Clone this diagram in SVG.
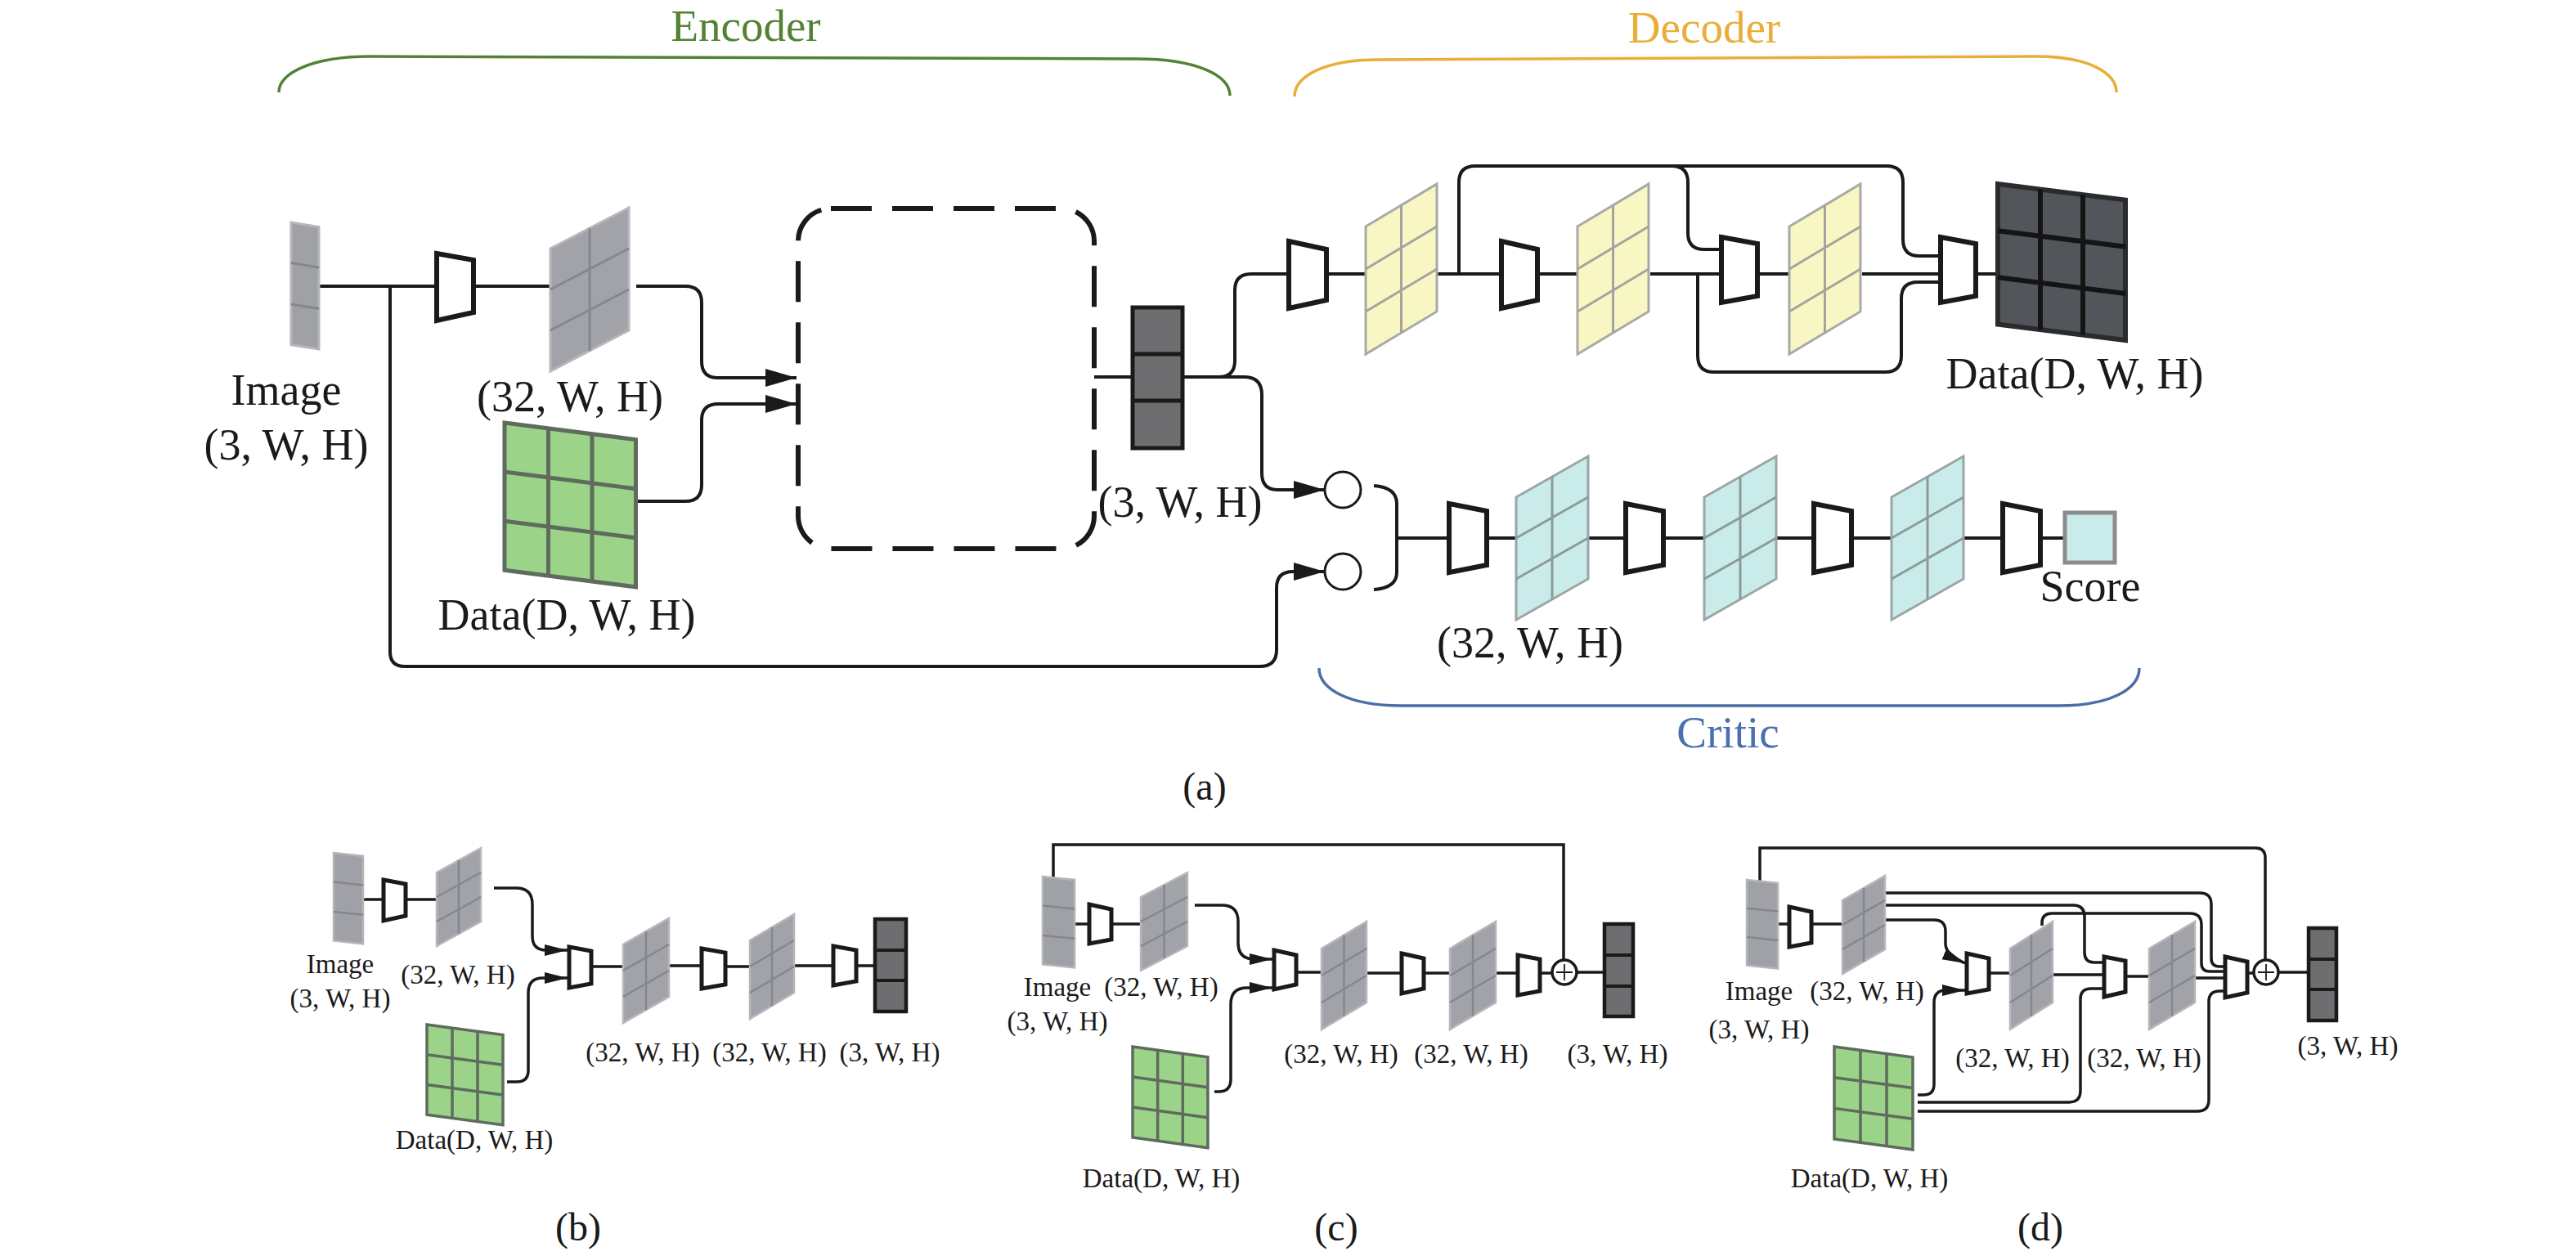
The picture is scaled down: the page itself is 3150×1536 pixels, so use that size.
<svg xmlns="http://www.w3.org/2000/svg" width="3150" height="1536" viewBox="0 0 3150 1536">
<defs>
<style>
text{font-family:"Liberation Serif","Times New Roman",serif;fill:#1a1a1a;text-anchor:middle}
.lbl{font-size:54px}
.sm{font-size:33px}
.cap{font-size:48px}
.ttl{font-size:55px}
.ln{fill:none;stroke:#1a1a1a;stroke-width:4}
.lns{fill:none;stroke:#1a1a1a;stroke-width:3.5}
.trap{fill:#fff;stroke:#1a1a1a;stroke-width:6}
.traps{fill:#fff;stroke:#1a1a1a;stroke-width:5}
.dst{fill:#6e6d70;stroke:#1a1a1a;stroke-width:5}
.dsts{fill:#6e6d70;stroke:#1a1a1a;stroke-width:4.5}
.circ{fill:#fff;stroke:#1a1a1a;stroke-width:3}
.oplus{fill:#fff;stroke:#1a1a1a;stroke-width:3.5}
.plus{fill:none;stroke:#1a1a1a;stroke-width:1.8}
.ns{vector-effect:non-scaling-stroke}
.brace{fill:none;stroke-width:3.5}
</style>
<marker id="ah" markerUnits="userSpaceOnUse" markerWidth="40" markerHeight="24" refX="38" refY="11" orient="auto"><path d="M0,0 L38,11 L0,22 Z" fill="#1a1a1a"/></marker>
<marker id="ahs" markerUnits="userSpaceOnUse" markerWidth="30" markerHeight="16" refX="28" refY="7" orient="auto"><path d="M0,0 L28,7 L0,14 Z" fill="#1a1a1a"/></marker>
<g id="mapGray">
 <polygon class="ns" points="0,50 100,0 100,150 0,200" fill="#a2a3a9" stroke="#b6b7bc"/>
 <path class="ns" d="M50,25 V175 M0,100 L100,50 M0,150 L100,100" fill="none" stroke="#86878e"/>
</g>
<g id="mapYel">
 <polygon class="ns" points="0,50 100,0 100,150 0,200" fill="#f8f7c4" stroke="#a9a9a6"/>
 <path class="ns" d="M50,25 V175 M0,100 L100,50 M0,150 L100,100" fill="none" stroke="#a3a3a0"/>
</g>
<g id="mapCyan">
 <polygon class="ns" points="0,50 100,0 100,150 0,200" fill="#c9ebea" stroke="#9aa5a5"/>
 <path class="ns" d="M50,25 V175 M0,100 L100,50 M0,150 L100,100" fill="none" stroke="#8d9a9a"/>
</g>
<g id="dataGreen">
 <polygon class="ns" points="0,0 150,20 150,195 0,175" fill="#9bd488" stroke="#5e6b5d"/>
 <path class="ns" d="M50,6.67 V181.67 M100,13.33 V188.33 M0,58.33 L150,78.33 M0,116.67 L150,136.67" fill="none" stroke="#5e6b5d"/>
</g>
<g id="dataDark">
 <polygon class="ns" points="0,0 150,20 150,195 0,175" fill="#52555a" stroke="#2a2b2d"/>
 <path class="ns" d="M50,6.67 V181.67 M100,13.33 V188.33 M0,58.33 L150,78.33 M0,116.67 L150,136.67" fill="none" stroke="#141414"/>
</g>
<g id="stk">
 <polygon class="ns" points="0,0 34,5 34,141 0,136" fill="#a0a1a7" stroke="#b5b6ba"/>
 <path class="ns" d="M0,45 L34,50 M0,91 L34,96" fill="none" stroke="#86878d"/>
</g>
</defs>
<rect width="3150" height="1536" fill="#fff"/>

<!-- ================= (a) ================= -->
<g id="a-annotations">
 <path class="brace" stroke="#548235" d="M341,113 C341,90 380,69 453,69 L1390,72 C1463,72 1504,92 1504,117"/>
 <path class="brace" stroke="#e9ae38" d="M1583,118 C1583,93 1620,73 1686,73 L2490,69 C2556,69 2588,90 2588,113"/>
 <path class="brace" stroke="#4a6fa5" d="M1613,817 C1613,843 1650,863 1713,863 L2518,863 C2580,863 2616,843 2616,817"/>
 <text class="ttl" x="912" y="50" style="fill:#548235">Encoder</text>
 <text class="ttl" x="2084" y="52" style="fill:#e9ae38">Decoder</text>
 <text class="ttl" x="2113" y="914" style="fill:#4a70b0">Critic</text>
 <text class="cap" x="1473" y="978">(a)</text>
</g>

<g id="a-connectors">
 <path class="ln" d="M390,350 H534 M579,350 H673"/>
 <path class="ln" d="M477,350 V797 Q477,815 495,815 H1540 Q1561,815 1561,795 V719 Q1561,699 1581,699 H1620" marker-end="url(#ah)"/>
 <path class="ln" d="M778,350 H838 Q858,350 858,370 V442 Q858,462 878,462 H974" marker-end="url(#ah)"/>
 <path class="ln" d="M778,613 H838 Q858,613 858,593 V514 Q858,494 878,494 H974" marker-end="url(#ah)"/>
 <path class="ln" d="M1338,461 H1385"/>
 <path class="ln" d="M1446,461 H1490 Q1510,461 1510,441 V355 Q1510,335 1530,335 H1576"/>
 <path class="ln" d="M1490,461 H1521 Q1543,461 1543,483 V579 Q1543,599 1563,599 H1620" marker-end="url(#ah)"/>
 <path class="ln" d="M1622,335 H1670 M1757,335 H1836 M1880,335 H1929 M2018,335 H2105 M2149,335 H2188 M2277,335 H2373 M2416,335 H2443"/>
 <path class="ln" d="M1784,335 V223 Q1784,203 1804,203 H2307 Q2327,203 2327,223 V293 Q2327,313 2347,313 H2373"/>
 <path class="ln" d="M2044,203 Q2064,203 2064,223 V285 Q2064,305 2084,305 H2105"/>
 <path class="ln" d="M2076,335 V435 Q2076,455 2096,455 H2305 Q2325,455 2325,435 V365 Q2325,345 2345,345 H2373"/>
 <path class="ln" d="M1680,594 Q1708,596 1708,616 V700 Q1708,719 1680,721"/>
 <path class="ln" d="M1708,658 H1772 M1818,658 H1854 M1942,658 H1988 M2034,658 H2084 M2172,658 H2218 M2264,658 H2313 M2400,658 H2449 M2495,658 H2525"/>
</g>

<g id="a-image"><use href="#stk" transform="translate(356,272) scale(1,1.1)" stroke-width="3"/>
 <text class="lbl" x="350" y="495">Image</text><text class="lbl" x="350" y="562">(3, W, H)</text></g>
<g id="a-enc-conv"><polygon class="trap" points="534,310 579,318 579,382 534,392"/></g>
<g id="a-enc-feat"><use href="#mapGray" transform="translate(673,254) scale(0.96,1.0)" stroke-width="3"/>
 <text class="lbl" x="697" y="503">(32, W, H)</text></g>
<g id="a-data"><use href="#dataGreen" transform="translate(617,517) scale(1.07,1.03)" stroke-width="5"/>
 <text class="lbl" x="693" y="770">Data(D, W, H)</text></g>
<g id="a-encoder-box"><rect x="976" y="255" width="362" height="416" rx="40" fill="none" stroke="#1a1a1a" stroke-width="6" stroke-dasharray="50 25"/></g>
<g id="a-encoded"><rect class="dst" x="1385" y="376" width="61" height="172"/><path d="M1385,433 H1446 M1385,490 H1446" stroke="#1a1a1a" stroke-width="5"/>
 <text class="lbl" x="1443" y="632">(3, W, H)</text></g>

<g id="a-dec-conv1"><polygon class="trap" points="1576,295 1622,305 1622,367 1576,377"/></g>
<g id="a-dec-map1"><use href="#mapYel" transform="translate(1670,225) scale(0.87,1.04)" stroke-width="3"/></g>
<g id="a-dec-conv2"><polygon class="trap" points="1836,295 1880,305 1880,367 1836,377"/></g>
<g id="a-dec-map2"><use href="#mapYel" transform="translate(1929,225) scale(0.87,1.04)" stroke-width="3"/></g>
<g id="a-dec-conv3"><polygon class="trap" points="2105,290 2149,298 2149,362 2105,370"/></g>
<g id="a-dec-map3"><use href="#mapYel" transform="translate(2188,225) scale(0.87,1.04)" stroke-width="3"/></g>
<g id="a-dec-conv4"><polygon class="trap" points="2373,290 2416,298 2416,362 2373,370"/></g>
<g id="a-dec-out"><use href="#dataDark" transform="translate(2443,225) scale(1.04,0.98)" stroke-width="6"/>
 <text class="lbl" x="2537" y="475">Data(D, W, H)</text></g>

<g id="a-critic-in1"><circle class="circ" cx="1642" cy="599" r="22"/></g>
<g id="a-critic-in2"><circle class="circ" cx="1642" cy="699" r="22"/></g>
<g id="a-critic-conv1"><polygon class="trap" points="1772,616 1818,625 1818,691 1772,700"/></g>
<g id="a-critic-map1"><use href="#mapCyan" transform="translate(1854,558) scale(0.88,1.0)" stroke-width="3"/>
 <text class="lbl" x="1871" y="804">(32, W, H)</text></g>
<g id="a-critic-conv2"><polygon class="trap" points="1988,616 2034,625 2034,691 1988,700"/></g>
<g id="a-critic-map2"><use href="#mapCyan" transform="translate(2084,558) scale(0.88,1.0)" stroke-width="3"/></g>
<g id="a-critic-conv3"><polygon class="trap" points="2218,616 2264,625 2264,691 2218,700"/></g>
<g id="a-critic-map3"><use href="#mapCyan" transform="translate(2313,558) scale(0.88,1.0)" stroke-width="3"/></g>
<g id="a-critic-conv4"><polygon class="trap" points="2449,616 2495,625 2495,691 2449,700"/></g>
<g id="a-score"><rect x="2525" y="627" width="61" height="61" fill="#c9ebea" stroke="#8c8c8c" stroke-width="5"/>
 <text class="lbl" x="2556" y="735">Score</text></g>

<!-- ================= (b) ================= -->
<g id="b-connectors">
 <path class="lns" d="M445,1100 H469 M496,1100 H534"/>
 <path class="lns" d="M604,1086 H631 Q651,1086 651,1106 V1145 Q651,1162 668,1162 H694" marker-end="url(#ahs)"/>
 <path class="lns" d="M620,1323 H632 Q646,1323 646,1309 V1214 Q646,1196 664,1196 H694" marker-end="url(#ahs)"/>
 <path class="lns" d="M723,1182 H762 M818,1181 H858 M887,1182 H917 M970,1181 H1019 M1047,1181 H1070"/>
</g>
<g id="b-image"><use href="#stk" transform="translate(408,1043) scale(1.06,0.79)" stroke-width="2.5"/>
 <text class="sm" x="416" y="1190">Image</text><text class="sm" x="416" y="1232">(3, W, H)</text></g>
<g id="b-conv1"><polygon class="traps" points="469,1076 496,1081 496,1120 469,1126"/></g>
<g id="b-feat1"><use href="#mapGray" transform="translate(534,1037) scale(0.54,0.6)" stroke-width="2.5"/>
 <text class="sm" x="560" y="1203">(32, W, H)</text></g>
<g id="b-data"><use href="#dataGreen" transform="translate(522,1253) scale(0.62,0.63)" stroke-width="3.5"/>
 <text class="sm" x="580" y="1405">Data(D, W, H)</text></g>
<g id="b-conv2"><polygon class="traps" points="696,1158 723,1163 723,1203 696,1208"/></g>
<g id="b-feat2"><use href="#mapGray" transform="translate(762,1123) scale(0.56,0.64)" stroke-width="2.5"/>
 <text class="sm" x="786" y="1298">(32, W, H)</text></g>
<g id="b-conv3"><polygon class="traps" points="858,1160 887,1165 887,1204 858,1209"/></g>
<g id="b-feat3"><use href="#mapGray" transform="translate(917,1118) scale(0.54,0.64)" stroke-width="2.5"/>
 <text class="sm" x="941" y="1298">(32, W, H)</text></g>
<g id="b-conv4"><polygon class="traps" points="1019,1157 1047,1162 1047,1200 1019,1205"/></g>
<g id="b-out"><rect class="dsts" x="1070" y="1124" width="38" height="113"/><path d="M1070,1162 H1108 M1070,1199 H1108" stroke="#1a1a1a" stroke-width="4"/>
 <text class="sm" x="1088" y="1298">(3, W, H)</text></g>
<text class="cap" x="707" y="1517">(b)</text>

<!-- ================= (c) ================= -->
<g id="c-connectors">
 <path class="lns" d="M1288,1073 V1033 H1912 V1174"/>
 <path class="lns" d="M1314,1130 H1332 M1359,1130 H1395"/>
 <path class="lns" d="M1461,1107 H1494 Q1514,1107 1514,1127 V1153 Q1514,1173 1534,1173 H1556" marker-end="url(#ahs)"/>
 <path class="lns" d="M1485,1335 H1490 Q1505,1335 1505,1320 V1228 Q1505,1208 1525,1208 H1556" marker-end="url(#ahs)"/>
 <path class="lns" d="M1585,1189 H1616 M1671,1190 H1714 M1741,1190 H1773 M1829,1190 H1856 M1883,1190 H1898 M1928,1189 H1962"/>
</g>
<g id="c-image"><use href="#stk" transform="translate(1275,1072) scale(1.15,0.79)" stroke-width="2.5"/>
 <text class="sm" x="1293" y="1218">Image</text><text class="sm" x="1293" y="1260">(3, W, H)</text></g>
<g id="c-conv1"><polygon class="traps" points="1332,1106 1359,1112 1359,1149 1332,1154"/></g>
<g id="c-feat1"><use href="#mapGray" transform="translate(1395,1067) scale(0.57,0.6)" stroke-width="2.5"/>
 <text class="sm" x="1420" y="1218">(32, W, H)</text></g>
<g id="c-data"><use href="#dataGreen" transform="translate(1385,1280) scale(0.613,0.634)" stroke-width="3.5"/>
 <text class="sm" x="1420" y="1452">Data(D, W, H)</text></g>
<g id="c-conv2"><polygon class="traps" points="1558,1162 1585,1168 1585,1204 1558,1210"/></g>
<g id="c-feat2"><use href="#mapGray" transform="translate(1616,1127) scale(0.55,0.66)" stroke-width="2.5"/>
 <text class="sm" x="1640" y="1300">(32, W, H)</text></g>
<g id="c-conv3"><polygon class="traps" points="1714,1166 1741,1172 1741,1209 1714,1215"/></g>
<g id="c-feat3"><use href="#mapGray" transform="translate(1773,1127) scale(0.56,0.66)" stroke-width="2.5"/>
 <text class="sm" x="1799" y="1300">(32, W, H)</text></g>
<g id="c-conv4"><polygon class="traps" points="1856,1168 1883,1173 1883,1212 1856,1217"/></g>
<g id="c-add"><circle class="oplus" cx="1913" cy="1189" r="15"/><path class="plus" d="M1903,1189 H1923 M1913,1179 V1199"/></g>
<g id="c-out"><rect class="dsts" x="1962" y="1130" width="35" height="113"/><path d="M1962,1168 H1997 M1962,1206 H1997" stroke="#1a1a1a" stroke-width="4"/>
 <text class="sm" x="1978" y="1300">(3, W, H)</text></g>
<text class="cap" x="1634" y="1517">(c)</text>

<!-- ================= (d) ================= -->
<g id="d-connectors">
 <path class="lns" d="M2152,1078 V1037 H2758 Q2770,1037 2770,1049 V1174"/>
 <path class="lns" d="M2173,1130 H2188 M2215,1130 H2253"/>
 <path class="lns" d="M2305,1092 H2690 Q2704,1092 2704,1106 V1172 Q2704,1182 2714,1182 H2721"/>
 <path class="lns" d="M2305,1107 H2535 Q2549,1107 2549,1121 V1165 Q2549,1177 2561,1177 H2573"/>
 <path class="lns" d="M2305,1125 H2365 Q2379,1125 2379,1139 V1155 Q2380,1168 2403,1178" marker-end="url(#ahs)"/>
 <path class="lns" d="M2497,1132 V1129 Q2497,1117 2509,1117 H2678 Q2692,1117 2692,1131 V1178 Q2692,1188 2702,1188 H2721"/>
 <path class="lns" d="M2345,1339 H2352 Q2365,1339 2365,1326 V1226 Q2365,1211 2380,1211 H2403" marker-end="url(#ahs)"/>
 <path class="lns" d="M2345,1348 H2530 Q2544,1348 2544,1334 V1222 Q2544,1209 2557,1209 H2573"/>
 <path class="lns" d="M2345,1359 H2687 Q2701,1359 2701,1345 V1225 Q2701,1212 2714,1212 H2721"/>
 <path class="lns" d="M2432,1190 H2458 M2510,1192 H2573 M2599,1194 H2628 M2684,1196 H2721 M2748,1190 H2756 M2786,1189 H2823"/>
</g>
<g id="d-image"><use href="#stk" transform="translate(2136,1076) scale(1.12,0.77)" stroke-width="2.5"/>
 <text class="sm" x="2151" y="1223">Image</text><text class="sm" x="2151" y="1270">(3, W, H)</text></g>
<g id="d-conv1"><polygon class="traps" points="2188,1109 2215,1115 2215,1153 2188,1158"/></g>
<g id="d-feat1"><use href="#mapGray" transform="translate(2253,1071) scale(0.52,0.6)" stroke-width="2.5"/>
 <text class="sm" x="2283" y="1223">(32, W, H)</text></g>
<g id="d-data"><use href="#dataGreen" transform="translate(2243,1280) scale(0.64,0.646)" stroke-width="3.5"/>
 <text class="sm" x="2286" y="1452">Data(D, W, H)</text></g>
<g id="d-conv2"><polygon class="traps" points="2405,1166 2432,1172 2432,1210 2405,1215"/></g>
<g id="d-feat2"><use href="#mapGray" transform="translate(2458,1127) scale(0.52,0.66)" stroke-width="2.5"/>
 <text class="sm" x="2461" y="1305">(32, W, H)</text></g>
<g id="d-conv3"><polygon class="traps" points="2573,1170 2599,1175 2599,1213 2573,1219"/></g>
<g id="d-feat3"><use href="#mapGray" transform="translate(2628,1127) scale(0.56,0.66)" stroke-width="2.5"/>
 <text class="sm" x="2622" y="1305">(32, W, H)</text></g>
<g id="d-conv4"><polygon class="traps" points="2721,1170 2748,1176 2748,1214 2721,1220"/></g>
<g id="d-add"><circle class="oplus" cx="2771" cy="1189" r="15"/><path class="plus" d="M2761,1189 H2781 M2771,1179 V1199"/></g>
<g id="d-out"><rect class="dsts" x="2823" y="1135" width="34" height="113"/><path d="M2823,1173 H2857 M2823,1210 H2857" stroke="#1a1a1a" stroke-width="4"/>
 <text class="sm" x="2871" y="1290">(3, W, H)</text></g>
<text class="cap" x="2495" y="1517">(d)</text>
</svg>
